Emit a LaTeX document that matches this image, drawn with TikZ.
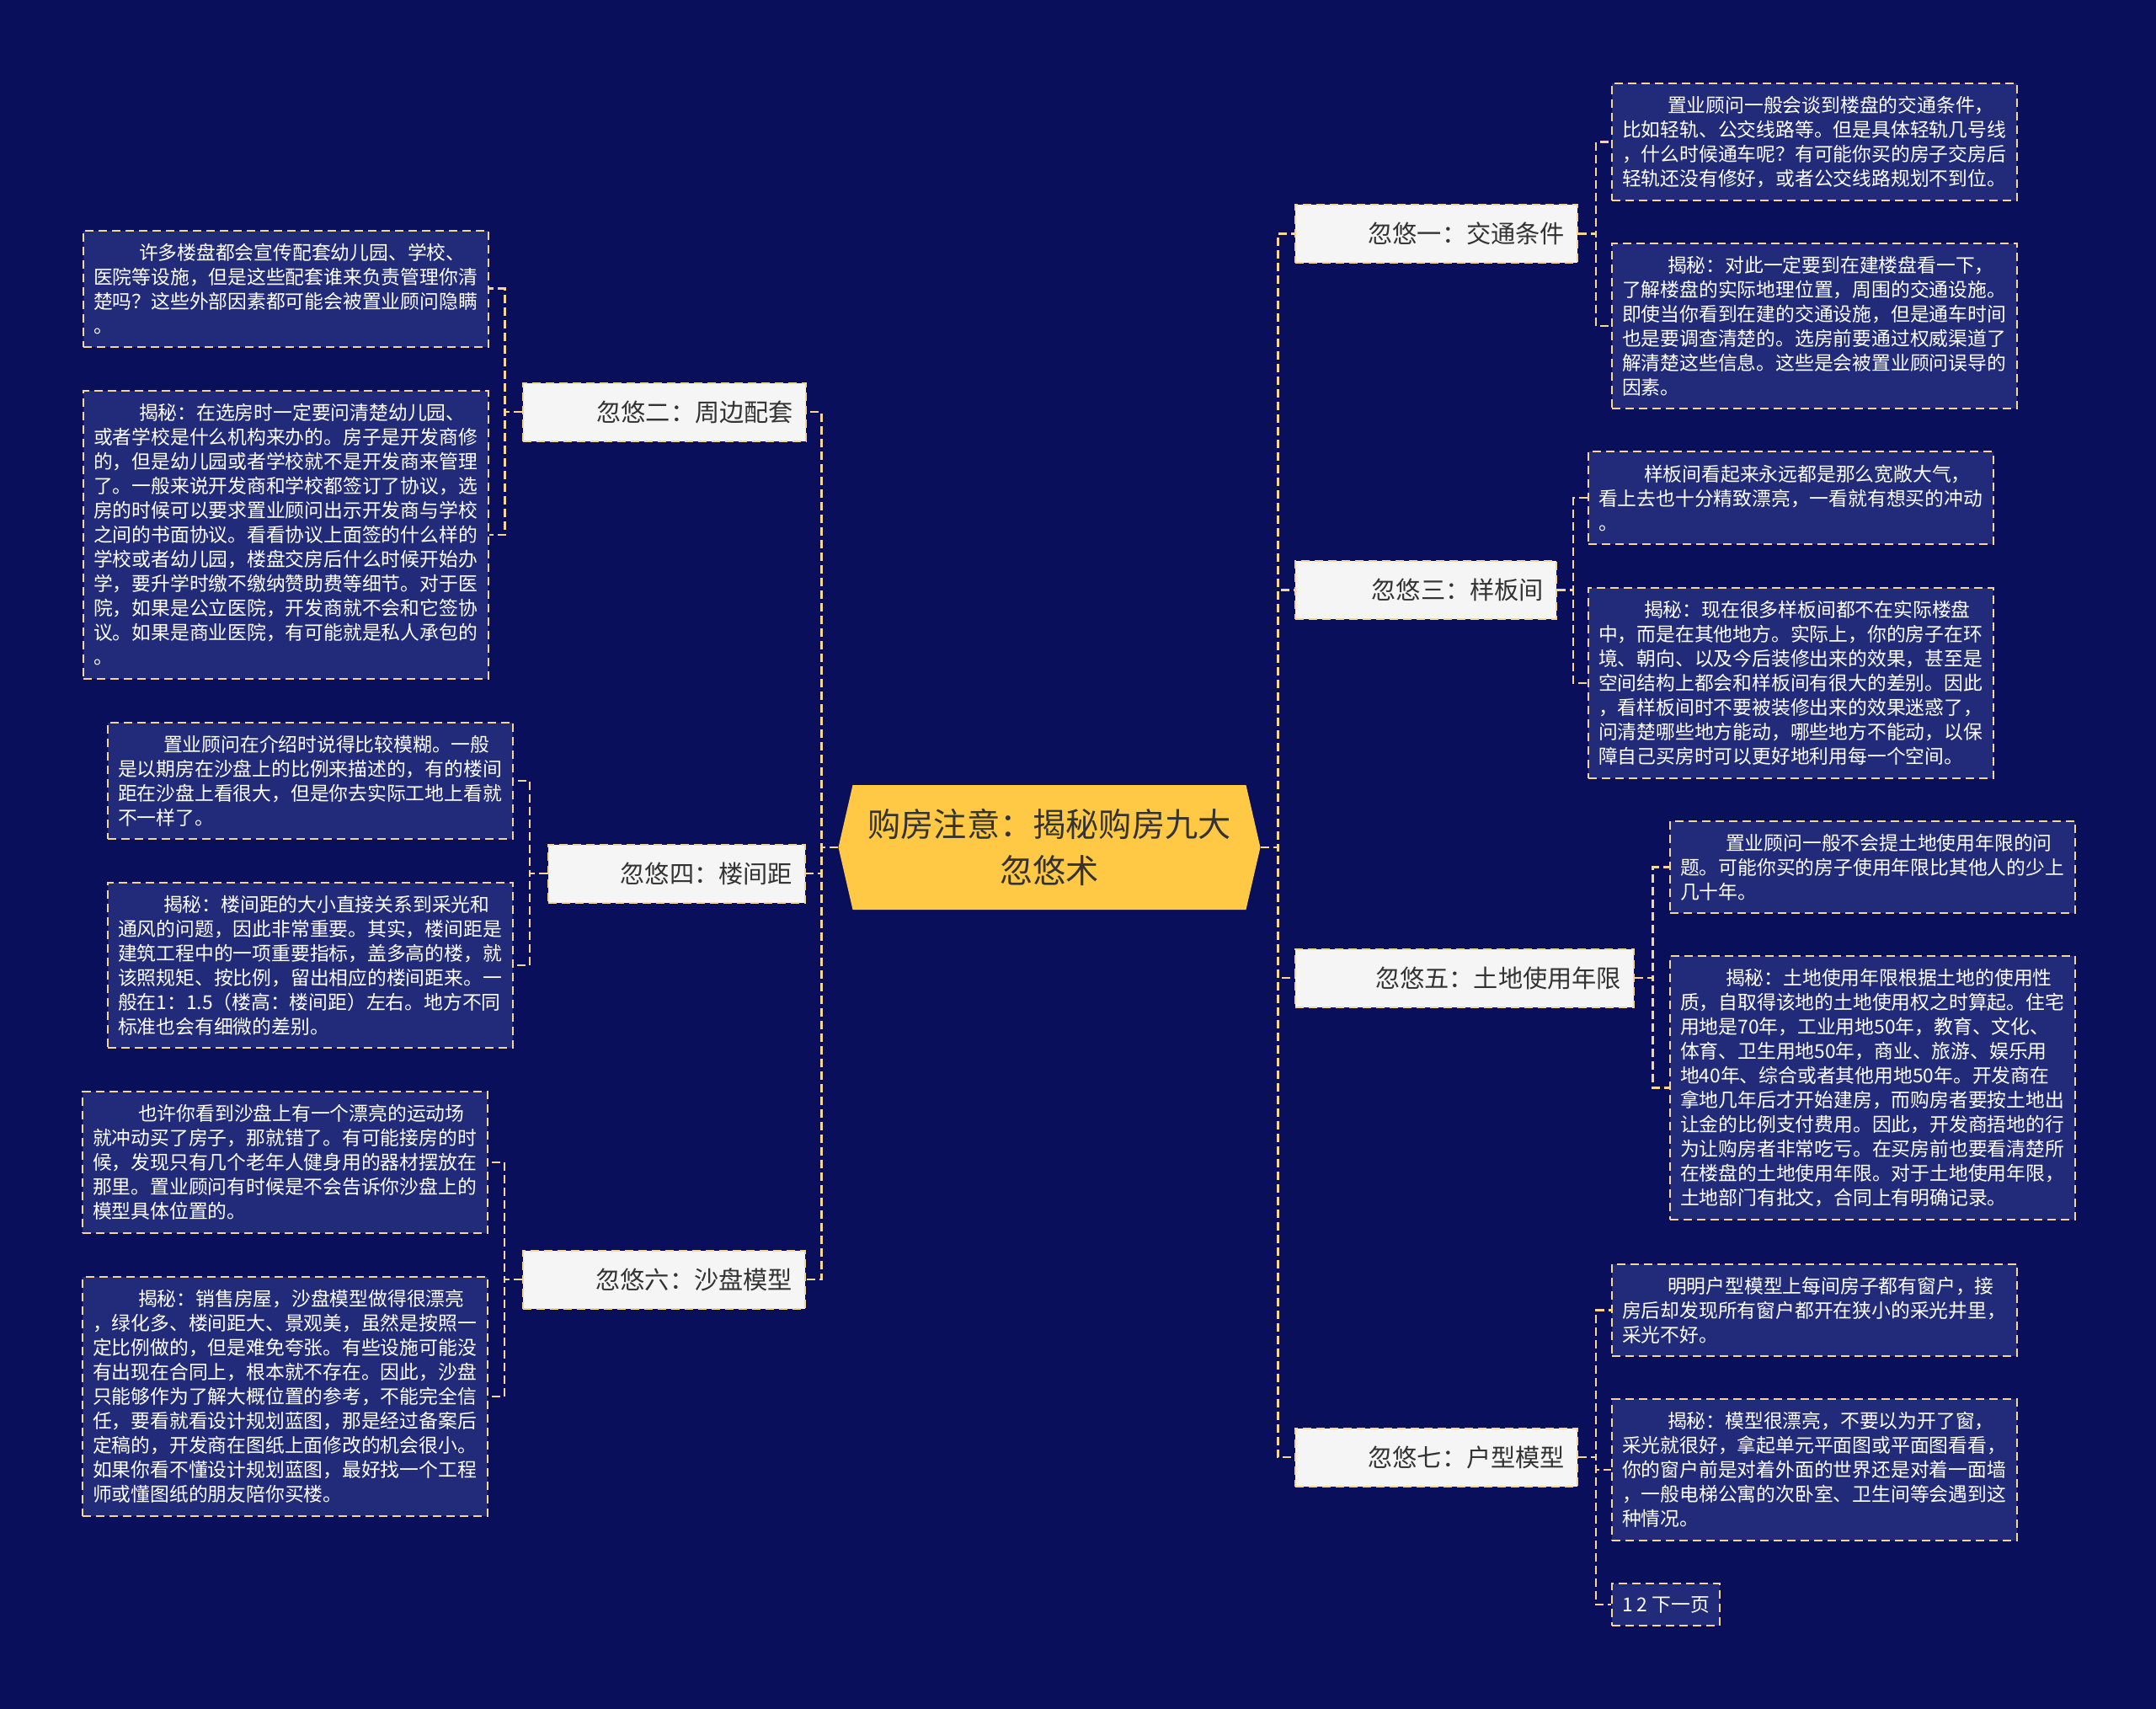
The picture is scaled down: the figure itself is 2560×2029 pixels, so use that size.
\documentclass[tikz,border=0pt]{standalone}
\usepackage{fontspec}
\setmainfont{Noto Sans CJK SC}
\usepackage{tikz}
\definecolor{navybg}{HTML}{0A0F5C}
\definecolor{cardfill}{HTML}{212B7A}
\definecolor{edgegold}{HTML}{F7D592}
\definecolor{branchfill}{HTML}{F5F5F5}
\definecolor{hubfill}{HTML}{FFC845}
\definecolor{inkdark}{HTML}{333333}
\newcommand{\leaffont}{\fontsize{11.4pt}{14.5pt}\selectfont}
\newcommand{\branchfont}{\fontsize{14.6pt}{17pt}\selectfont}
\newcommand{\hubfont}{\fontsize{19.6pt}{27.5pt}\selectfont}
\newcommand{\firstgap}{\hspace*{27pt}}

\begin{document}
\begin{tikzpicture}[
  x=0.5pt, y=-0.5pt,
  card/.style={rectangle, draw=edgegold, fill=cardfill, line width=1pt, dash pattern=on 5pt off 3pt, text=white, font=\leaffont, align=left, inner xsep=6pt, inner ysep=7.6pt, anchor=west},
  leaf/.style={card, text width=228.5pt},
  branch/.style={rectangle, draw=edgegold, fill=branchfill, line width=1pt, dash pattern=on 5pt off 3pt, text=inkdark, font=\branchfont, minimum height=34.5pt, inner xsep=7.5pt, align=right, text width=#1, anchor=west},
  hub/.style={rectangle, minimum width=250.5pt, minimum height=74pt, text=inkdark, font=\hubfont, align=center,
    path picture={\fill[hubfill] (path picture bounding box.west) -- ([xshift=8.5pt]path picture bounding box.north west) -- ([xshift=-8.5pt]path picture bounding box.north east) -- (path picture bounding box.east) -- ([xshift=-8.5pt]path picture bounding box.south east) -- ([xshift=8.5pt]path picture bounding box.south west) -- cycle;}},
  link/.style={draw=edgegold, line width=1.3pt, dash pattern=on 5pt off 2.5pt}
]
\useasboundingbox (0,0) rectangle (2560,2029);
\fill[navybg] (0,0) rectangle (2560,2029);

% Center
\node[hub] (hub) at (1246,1006) {购房注意：揭秘购房九大\\忽悠术};

% Branches
\node[branch=152.5pt] (b1) at (1537,277.5) {忽悠一：交通条件};
\node[branch=153pt] (b2) at (620,489) {忽悠二：周边配套};
\node[branch=140pt] (b3) at (1537,700.5) {忽悠三：样板间};
\node[branch=137.5pt] (b4) at (650,1037) {忽悠四：楼间距};
\node[branch=186pt] (b5) at (1537,1161) {忽悠五：土地使用年限};
\node[branch=152.5pt] (b6) at (620,1519) {忽悠六：沙盘模型};
\node[branch=152.5pt] (b7) at (1537,1730) {忽悠七：户型模型};

% Leaves
\node[leaf] (l1a) at (1913,168.5) {\firstgap 置业顾问一般会谈到楼盘的交通条件，\\比如轻轨、公交线路等。但是具体轻轨几号线\\，什么时候通车呢？有可能你买的房子交房后\\轻轨还没有修好，或者公交线路规划不到位。};
\node[leaf] (l1b) at (1913,387) {\firstgap 揭秘：对此一定要到在建楼盘看一下，\\了解楼盘的实际地理位置，周围的交通设施。\\即使当你看到在建的交通设施，但是通车时间\\也是要调查清楚的。选房前要通过权威渠道了\\解清楚这些信息。这些是会被置业顾问误导的\\因素。};
\node[leaf] (l2a) at (98,342.7) {\firstgap 许多楼盘都会宣传配套幼儿园、学校、\\医院等设施，但是这些配套谁来负责管理你清\\楚吗？这些外部因素都可能会被置业顾问隐瞒\\。};
\node[leaf] (l2b) at (98,635) {\firstgap 揭秘：在选房时一定要问清楚幼儿园、\\或者学校是什么机构来办的。房子是开发商修\\的，但是幼儿园或者学校就不是开发商来管理\\了。一般来说开发商和学校都签订了协议，选\\房的时候可以要求置业顾问出示开发商与学校\\之间的书面协议。看看协议上面签的什么样的\\学校或者幼儿园，楼盘交房后什么时候开始办\\学，要升学时缴不缴纳赞助费等细节。对于医\\院，如果是公立医院，开发商就不会和它签协\\议。如果是商业医院，有可能就是私人承包的\\。};
\node[leaf] (l3a) at (1885,591) {\firstgap 样板间看起来永远都是那么宽敞大气，\\看上去也十分精致漂亮，一看就有想买的冲动\\。};
\node[leaf] (l3b) at (1885,811) {\firstgap 揭秘：现在很多样板间都不在实际楼盘\\中，而是在其他地方。实际上，你的房子在环\\境、朝向、以及今后装修出来的效果，甚至是\\空间结构上都会和样板间有很大的差别。因此\\，看样板间时不要被装修出来的效果迷惑了，\\问清楚哪些地方能动，哪些地方不能动，以保\\障自己买房时可以更好地利用每一个空间。};
\node[leaf] (l4a) at (127,927) {\firstgap 置业顾问在介绍时说得比较模糊。一般\\是以期房在沙盘上的比例来描述的，有的楼间\\距在沙盘上看很大，但是你去实际工地上看就\\不一样了。};
\node[leaf] (l4b) at (127,1146) {\firstgap 揭秘：楼间距的大小直接关系到采光和\\通风的问题，因此非常重要。其实，楼间距是\\建筑工程中的一项重要指标，盖多高的楼，就\\该照规矩、按比例，留出相应的楼间距来。一\\般在1：1.5（楼高：楼间距）左右。地方不同\\标准也会有细微的差别。};
\node[leaf] (l5a) at (1982,1029.5) {\firstgap 置业顾问一般不会提土地使用年限的问\\题。可能你买的房子使用年限比其他人的少上\\几十年。};
\node[leaf] (l5b) at (1982,1291.5) {\firstgap 揭秘：土地使用年限根据土地的使用性\\质，自取得该地的土地使用权之时算起。住宅\\用地是70年，工业用地50年，教育、文化、\\体育、卫生用地50年，商业、旅游、娱乐用\\地40年、综合或者其他用地50年。开发商在\\拿地几年后才开始建房，而购房者要按土地出\\让金的比例支付费用。因此，开发商捂地的行\\为让购房者非常吃亏。在买房前也要看清楚所\\在楼盘的土地使用年限。对于土地使用年限，\\土地部门有批文，合同上有明确记录。};
\node[leaf] (l6a) at (97,1380) {\firstgap 也许你看到沙盘上有一个漂亮的运动场\\就冲动买了房子，那就错了。有可能接房的时\\候，发现只有几个老年人健身用的器材摆放在\\那里。置业顾问有时候是不会告诉你沙盘上的\\模型具体位置的。};
\node[leaf] (l6b) at (97,1658) {\firstgap 揭秘：销售房屋，沙盘模型做得很漂亮\\，绿化多、楼间距大、景观美，虽然是按照一\\定比例做的，但是难免夸张。有些设施可能没\\有出现在合同上，根本就不存在。因此，沙盘\\只能够作为了解大概位置的参考，不能完全信\\任，要看就看设计规划蓝图，那是经过备案后\\定稿的，开发商在图纸上面修改的机会很小。\\如果你看不懂设计规划蓝图，最好找一个工程\\师或懂图纸的朋友陪你买楼。};
\node[leaf] (l7a) at (1913,1555.5) {\firstgap 明明户型模型上每间房子都有窗户，接\\房后却发现所有窗户都开在狭小的采光井里，\\采光不好。};
\node[leaf] (l7b) at (1913,1745) {\firstgap 揭秘：模型很漂亮，不要以为开了窗，\\采光就很好，拿起单元平面图或平面图看看，\\你的窗户前是对着外面的世界还是对着一面墙\\，一般电梯公寓的次卧室、卫生间等会遇到这\\种情况。};
\node[card] (l7c) at (1913,1905) {1 2 下一页};

% Connectors
\foreach \b in {b1,b3,b5,b7}
  \draw[link] (hub.east) -- ++(20.5,0) |- (\b.west);
\foreach \b in {b2,b4,b6}
  \draw[link] (hub.west) -- ++(-19.5,0) |- (\b.east);
\foreach \l in {l1a,l1b}
  \draw[link] (b1.east) -- ++(21,0) |- (\l.west);
\foreach \l in {l3a,l3b}
  \draw[link] (b3.east) -- ++(19,0) |- (\l.west);
\foreach \l in {l5a,l5b}
  \draw[link] (b5.east) -- ++(21.5,0) |- (\l.west);
\foreach \l in {l7a,l7b,l7c}
  \draw[link] (b7.east) -- ++(21,0) |- (\l.west);
\foreach \l in {l2a,l2b}
  \draw[link] (b2.west) -- ++(-20.5,0) |- (\l.east);
\foreach \l in {l4a,l4b}
  \draw[link] (b4.west) -- ++(-21,0) |- (\l.east);
\foreach \l in {l6a,l6b}
  \draw[link] (b6.west) -- ++(-21,0) |- (\l.east);

\end{tikzpicture}
\end{document}
